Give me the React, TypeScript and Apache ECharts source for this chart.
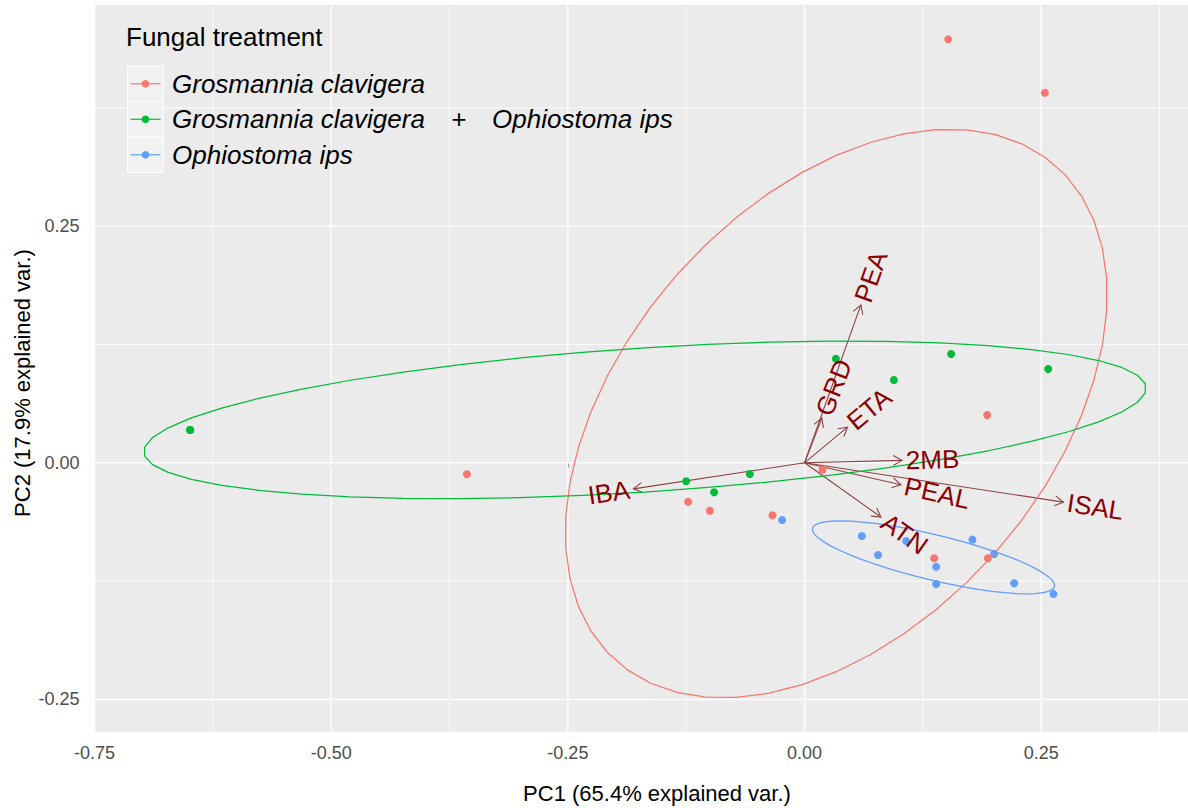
import React, { useEffect, useRef } from "react";
import * as echarts from "echarts";

// ---------- data ----------
const groupNames = [
  "Grosmannia clavigera",
  "Grosmannia clavigera\u2003+\u2003Ophiostoma ips",
  "Ophiostoma ips",
];
const groupColors = ["#F8766D", "#00BA38", "#619CFF"];

// Grosmannia clavigera
const gcPC1 = [0.1517, 0.2538, -0.3567, 0.1929, 0.0189, -0.1229, -0.1, -0.0339, 0.1369, 0.1936];
const gcPC2 = [0.4474, 0.391, -0.0121, 0.0505, -0.0073, -0.0411, -0.0506, -0.0555, -0.1009, -0.1009];

// Grosmannia clavigera + Ophiostoma ips (three samples overlap at the far-left point)
const gcoPC1 = [-0.6489, -0.6489, -0.6489, 0.0331, 0.1548, 0.0943, 0.2573, -0.1251, -0.0955, -0.0578];
const gcoPC2 = [0.0347, 0.0347, 0.0347, 0.11, 0.1149, 0.0875, 0.0991, -0.0195, -0.0312, -0.0118];

// Ophiostoma ips
const oiPC1 = [-0.0237, 0.0605, 0.0776, 0.1073, 0.139, 0.139, 0.1773, 0.2003, 0.2214, 0.2629];
const oiPC2 = [-0.0605, -0.0773, -0.0974, -0.0827, -0.1098, -0.128, -0.0812, -0.0964, -0.1273, -0.1386];

// variable loadings (arrows)
const varNames = ["PEA", "GRD", "ETA", "2MB", "PEAL", "ISAL", "ATN", "IBA"];
const varPC1 = [0.0595, 0.0183, 0.0453, 0.1028, 0.1017, 0.2735, 0.0806, -0.1807];
const varPC2 = [0.1668, 0.0472, 0.0377, 0.0026, -0.0232, -0.0415, -0.0573, -0.0275];

// axes
const xTicks = [-0.75, -0.5, -0.25, 0, 0.25];
const xMinor = [-0.625, -0.375, -0.125, 0.125, 0.375];
const yTicks = [-0.25, 0, 0.25];
const yMinor = [-0.125, 0.125, 0.375];
const X_MIN = -0.75;
const X_MAX = 0.405;
const Y_MIN = -0.2841;
const Y_MAX = 0.4837;

const xTitle = "PC1 (65.4% explained var.)";
const yTitle = "PC2 (17.9% explained var.)";
const legendTitle = "Fungal treatment";

// ---------- helpers ----------
// normal-probability ellipse (as in ggbiplot, ellipse.prob = 0.68)
function dataEllipse(xs: number[], ys: number[], prob = 0.68, n = 50) {
  const m = xs.length;
  const mx = xs.reduce((a, b) => a + b, 0) / m;
  const my = ys.reduce((a, b) => a + b, 0) / m;
  let sxx = 0, syy = 0, sxy = 0;
  for (let i = 0; i < m; i++) {
    sxx += (xs[i] - mx) ** 2;
    syy += (ys[i] - my) ** 2;
    sxy += (xs[i] - mx) * (ys[i] - my);
  }
  sxx /= m - 1; syy /= m - 1; sxy /= m - 1;
  const r11 = Math.sqrt(sxx);
  const r12 = sxy / r11;
  const r22 = Math.sqrt(syy - r12 * r12);
  const ed = Math.sqrt(-2 * Math.log(1 - prob));
  const pts: number[][] = [];
  for (let i = 0; i <= n; i++) {
    const th = -Math.PI / 2 + (2 * Math.PI * (i % n)) / n;
    const c = Math.cos(th), s = Math.sin(th);
    pts.push([mx + ed * c * r11, my + ed * (c * r12 + s * r22)]);
  }
  return pts;
}

const groupsX = [gcPC1, gcoPC1, oiPC1];
const groupsY = [gcPC2, gcoPC2, oiPC2];

const FONT = '"Liberation Sans", Arial, sans-serif';
const arrowColor = "#8e4343";

function gridSeries(vertical: boolean, values: number[], width: number) {
  return {
    type: "custom",
    name: vertical ? "v-grid" : "h-grid",
    silent: true,
    z: 1,
    clip: true,
    data: values.map((v) => (vertical ? [v, Y_MIN] : [X_MIN, v])),
    renderItem: (params: any, api: any) => {
      let p1, p2;
      if (vertical) {
        const v = api.value(0);
        p1 = api.coord([v, Y_MIN]);
        p2 = api.coord([v, Y_MAX]);
      } else {
        const v = api.value(1);
        p1 = api.coord([X_MIN, v]);
        p2 = api.coord([X_MAX, v]);
      }
      return {
        type: "line",
        shape: { x1: p1[0], y1: p1[1], x2: p2[0], y2: p2[1] },
        style: { stroke: "#ffffff", lineWidth: width },
      };
    },
  };
}

function buildOption() {
  const series: any[] = [
    gridSeries(true, xTicks, 1.4),
    gridSeries(true, xMinor, 0.8),
    gridSeries(false, yTicks, 1.4),
    gridSeries(false, yMinor, 0.8),
  ];

  // arrows
  series.push({
    type: "custom",
    name: "loadings",
    silent: true,
    z: 2,
    data: varPC1.map((x, i) => [x, varPC2[i]]),
    renderItem: (params: any, api: any) => {
      const o = api.coord([0, 0]);
      const t = api.coord([api.value(0), api.value(1)]);
      const a = Math.atan2(t[1] - o[1], t[0] - o[0]);
      const L = 10;
      const w = Math.PI / 6;
      const h1 = [t[0] - L * Math.cos(a - w), t[1] - L * Math.sin(a - w)];
      const h2 = [t[0] - L * Math.cos(a + w), t[1] - L * Math.sin(a + w)];
      return {
        type: "group",
        children: [
          {
            type: "line",
            shape: { x1: o[0], y1: o[1], x2: t[0], y2: t[1] },
            style: { stroke: arrowColor, lineWidth: 1.1 },
          },
          {
            type: "polyline",
            shape: { points: [h1, t, h2] },
            style: { stroke: arrowColor, lineWidth: 1.1, fill: "none" },
          },
        ],
      };
    },
  });

  // points
  groupNames.forEach((name, g) => {
    series.push({
      type: "scatter",
      name,
      silent: true,
      z: 3,
      symbol: "circle",
      symbolSize: 8,
      itemStyle: { color: groupColors[g], opacity: 1 },
      data: groupsX[g].map((x, i) => [x, groupsY[g][i]]),
    });
  });

  // ellipses
  groupNames.forEach((name, g) => {
    series.push({
      type: "line",
      name: "ellipse " + (g + 1),
      silent: true,
      z: 4,
      showSymbol: false,
      symbol: "none",
      smooth: false,
      lineStyle: { color: groupColors[g], width: 1.25, join: "round" },
      data: dataEllipse(groupsX[g], groupsY[g]),
    });
  });

  // variable labels
  series.push({
    type: "custom",
    name: "loading-labels",
    silent: true,
    z: 6,
    data: varPC1.map((x, i) => [x, varPC2[i]]),
    renderItem: (params: any, api: any) => {
      const x = api.value(0);
      const y = api.value(1);
      const t = api.coord([x, y]);
      const rot = Math.atan(y / x);
      const dir = x >= 0 ? 1 : -1;
      const off = 4;
      return {
        type: "text",
        x: t[0] + dir * off * Math.cos(rot),
        y: t[1] - dir * off * Math.sin(rot),
        rotation: rot,
        style: {
          text: varNames[params.dataIndex],
          fill: "#8B0000",
          font: `26px ${FONT}`,
          align: dir > 0 ? "left" : "right",
          verticalAlign: "middle",
        },
      };
    },
  });

  // legend drawn in-panel, ggplot style
  const keyX = 127.5, keyTop = 66, keyW = 36, keyH = 35.5;
  const legendEls: any[] = [
    {
      type: "text",
      x: 126,
      y: 37,
      z: 20,
      style: { text: legendTitle, font: `26px ${FONT}`, fill: "#000", verticalAlign: "middle", align: "left" },
    },
  ];
  groupNames.forEach((name, i) => {
    const cy = keyTop + keyH * i + keyH / 2;
    legendEls.push(
      {
        type: "rect",
        z: 20,
        shape: { x: keyX, y: keyTop + keyH * i, width: keyW, height: keyH },
        style: { fill: "#F2F2F2", stroke: "#ffffff", lineWidth: 1 },
      },
      {
        type: "line",
        z: 21,
        shape: { x1: keyX + 3, y1: cy, x2: keyX + keyW - 3, y2: cy },
        style: { stroke: groupColors[i], lineWidth: 1.2 },
      },
      {
        type: "circle",
        z: 22,
        shape: { cx: keyX + keyW / 2, cy, r: 3.8 },
        style: { fill: groupColors[i] },
      },
      {
        type: "text",
        z: 22,
        x: 172,
        y: cy,
        style: { text: name, font: `italic 26px ${FONT}`, fill: "#000", verticalAlign: "middle", align: "left" },
      }
    );
  });

  const axisTitles = [
    {
      type: "text",
      x: 657,
      y: 793,
      z: 20,
      style: { text: xTitle, font: `22px ${FONT}`, fill: "#000", align: "center", verticalAlign: "middle" },
    },
    {
      type: "text",
      x: 22,
      y: 383,
      z: 20,
      rotation: Math.PI / 2,
      style: { text: yTitle, font: `22px ${FONT}`, fill: "#000", align: "center", verticalAlign: "middle" },
    },
  ];

  return {
    animation: false,
    backgroundColor: "#ffffff",
    grid: {
      left: 94.5,
      right: 0,
      top: 5,
      bottom: 76.3,
      show: true,
      backgroundColor: "#EBEBEB",
      borderWidth: 0,
      containLabel: false,
      outerBoundsMode: "none",
    },
    xAxis: {
      type: "value",
      min: X_MIN,
      max: X_MAX,
      axisLine: { show: false },
      splitLine: { show: false },
      minorSplitLine: { show: false },
      axisTick: { show: true, length: 5, customValues: xTicks, lineStyle: { color: "#333333", width: 1 } },
      axisLabel: {
        customValues: xTicks,
        formatter: (v: number) => v.toFixed(2),
        color: "#4D4D4D",
        fontSize: 18,
        fontFamily: FONT,
        margin: 12,
      },
    },
    yAxis: {
      type: "value",
      min: Y_MIN,
      max: Y_MAX,
      axisLine: { show: false },
      splitLine: { show: false },
      minorSplitLine: { show: false },
      axisTick: { show: true, length: 5, customValues: yTicks, lineStyle: { color: "#333333", width: 1 } },
      axisLabel: {
        customValues: yTicks,
        formatter: (v: number) => v.toFixed(2),
        color: "#4D4D4D",
        fontSize: 18,
        fontFamily: FONT,
        margin: 15,
      },
    },
    graphic: [...legendEls, ...axisTitles],
    series,
  };
}

export default function App() {
  const ref = useRef<HTMLDivElement>(null);
  useEffect(() => {
    if (!ref.current) return;
    const chart = echarts.init(ref.current, null, { renderer: "svg" });
    chart.setOption(buildOption() as any);
    return () => {
      chart.dispose();
    };
  }, []);
  return (
    <div
      ref={ref}
      style={{ position: "fixed", left: 0, top: 0, width: 1188, height: 808, background: "#ffffff" }}
    />
  );
}
